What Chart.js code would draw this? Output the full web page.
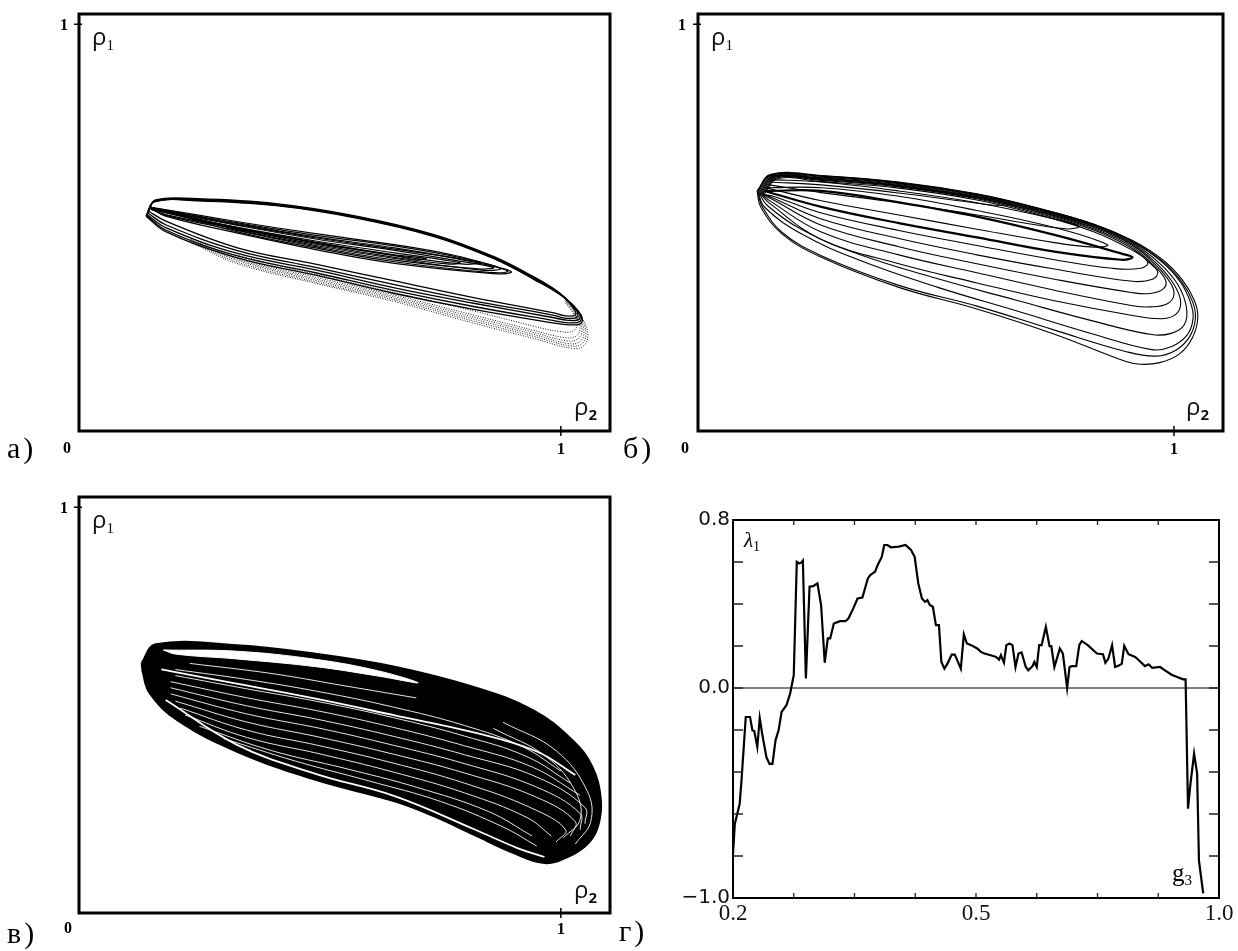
<!DOCTYPE html>
<html>
<head>
<meta charset="utf-8">
<script src="https://cdn.jsdelivr.net/npm/chart.js@4.4.1/dist/chart.umd.min.js"></script>
<style>
  body { margin: 0; background: #fff; width: 1238px; height: 951px; position: relative; overflow: hidden; }
  .box { position: absolute; }
  .lbl { position: absolute; white-space: nowrap; color: #000; line-height: 1; z-index: 2; }
  .let { font-family: 'Liberation Serif', serif; font-size: 30px; letter-spacing: 3px; }
  .num { font-family: 'Liberation Serif', serif; font-weight: bold; font-size: 16px; }
  .rho { font-family: 'Open Sans', sans-serif; font-size: 24px; color: #111; }
  .rho span { font-size: 15px; position: relative; top: 5px; }
  .ser { font-family: 'Liberation Serif', serif; }
</style>
</head>
<body>
<div class="box" style="left:0;top:0"><canvas id="pa" width="620" height="470"></canvas></div>
<div class="box" style="left:620px;top:0"><canvas id="pb" width="618" height="470"></canvas></div>
<div class="box" style="left:0;top:480px"><canvas id="pc" width="620" height="471"></canvas></div>
<div class="box" style="left:640px;top:490px"><canvas id="pd" width="598" height="461"></canvas></div>

<!-- panel a -->
<div class="lbl let" style="left:7px;top:433px">а)</div>
<div class="lbl num" style="left:63px;top:440px">0</div>
<div class="lbl num" style="left:557px;top:441px">1</div>
<div class="lbl num" style="left:60px;top:17px">1</div>
<div class="lbl rho" style="left:92px;top:24px">ρ<span class="ser">1</span></div>
<div class="lbl rho" style="left:574px;top:394px">ρ<span style="font-weight:bold">2</span></div>
<!-- panel b -->
<div class="lbl let" style="left:623px;top:433px">б)</div>
<div class="lbl num" style="left:681px;top:440px">0</div>
<div class="lbl num" style="left:1170px;top:441px">1</div>
<div class="lbl num" style="left:678px;top:17px">1</div>
<div class="lbl rho" style="left:711px;top:24px">ρ<span class="ser">1</span></div>
<div class="lbl rho" style="left:1186px;top:394px">ρ<span style="font-weight:bold">2</span></div>
<!-- panel c -->
<div class="lbl let" style="left:7px;top:918px">в)</div>
<div class="lbl num" style="left:64px;top:920px">0</div>
<div class="lbl num" style="left:557px;top:921px">1</div>
<div class="lbl num" style="left:60px;top:500px">1</div>
<div class="lbl rho" style="left:92px;top:507px">ρ<span class="ser">1</span></div>
<div class="lbl rho" style="left:574px;top:877px">ρ<span style="font-weight:bold">2</span></div>
<!-- panel d -->
<div class="lbl let" style="left:619px;top:916px">г)</div>
<div class="lbl ser" style="left:744px;top:530px;font-size:21px;font-style:italic">λ<span style="font-size:14px;font-style:normal;position:relative;top:4px">1</span></div>
<div class="lbl ser" style="left:1172px;top:860px;font-size:25px">g<span style="font-size:15px;position:relative;top:4px">3</span></div>

<script>
// --- panel г : largest Lyapunov exponent vs g3
const g3Values = [0.200,0.203,0.211,0.214,0.221,0.228,0.232,0.235,0.240,0.244,0.248,0.255,0.260,0.265,0.270,0.275,0.280,0.288,0.294,0.300,
  0.305,0.309,0.313,0.315,0.320,0.326,0.332,0.339,0.345,0.351,0.356,0.360,0.366,0.376,0.385,0.390,0.398,0.405,0.413,0.422,
  0.426,0.434,0.438,0.445,0.449,0.454,0.460,0.473,0.484,0.493,0.499,0.505,0.511,0.516,0.520,0.524,0.529,0.534,0.539,0.543,
  0.548,0.553,0.560,0.565,0.568,0.575,0.580,0.585,0.592,0.602,0.608,0.614,0.624,0.633,0.638,0.641,0.646,0.650,0.655,0.660,
  0.665,0.670,0.675,0.682,0.686,0.693,0.696,0.700,0.704,0.708,0.715,0.721,0.724,0.729,0.734,0.738,0.743,0.750,0.754,0.758,
  0.765,0.770,0.774,0.784,0.799,0.809,0.813,0.818,0.824,0.829,0.836,0.840,0.844,0.851,0.862,0.868,0.878,0.884,0.890,0.903,
  0.911,0.922,0.931,0.941,0.945,0.949,0.953,0.959,0.964,0.967,0.974];
const lambda1Values = [-0.790,-0.647,-0.551,-0.440,-0.138,-0.138,-0.202,-0.205,-0.281,-0.143,-0.218,-0.329,-0.361,-0.361,-0.249,-0.202,-0.114,-0.082,-0.027,0.061,
  0.601,0.593,0.598,0.606,0.045,0.482,0.485,0.498,0.395,0.120,0.236,0.236,0.307,0.318,0.318,0.331,0.379,0.426,0.431,0.522,
  0.538,0.554,0.585,0.625,0.681,0.681,0.670,0.673,0.681,0.657,0.625,0.498,0.426,0.410,0.418,0.395,0.387,0.299,0.299,0.124,
  0.092,0.116,0.159,0.159,0.140,0.092,0.255,0.212,0.204,0.188,0.172,0.164,0.156,0.148,0.135,0.156,0.121,0.204,0.212,0.204,
  0.100,0.164,0.169,0.100,0.084,0.104,0.124,0.100,0.204,0.204,0.291,0.199,0.199,0.100,0.148,0.188,0.164,0.000,0.100,0.104,
  0.104,0.204,0.224,0.204,0.164,0.161,0.120,0.140,0.204,0.100,0.108,0.116,0.201,0.161,0.148,0.132,0.104,0.113,0.096,0.100,
  0.084,0.063,0.052,0.041,0.041,-0.575,-0.456,-0.313,-0.408,-0.822,-0.978];
const lambdaTicks = [-0.8, -0.6, -0.4, -0.2, 0, 0.2, 0.4, 0.6];
const g3Ticks = [0.3, 0.4, 0.5, 0.6, 0.7, 0.8, 0.9];
const lambdaTickLabels = { '0.8': '0.8', '0.0': '0.0', '-1.0': '\u22121.0' };
const g3TickLabels = { '0.2': '0.2', '0.6': '0.5', '1.0': '1.0' };

// --- panel а : phase portrait rho2 (x) / rho1 (y), traced loops
const panelAOuter = [
  [[0.145,0.540],[0.159,0.568],[0.245,0.571],[0.409,0.559],[0.573,0.529],[0.737,0.483],[0.860,0.429],[0.942,0.380],[0.999,0.338],[1.026,0.302],[1.030,0.285],[1.010,0.283],[0.983,0.291],[0.819,0.328],[0.655,0.369],[0.491,0.410],[0.327,0.451],[0.180,0.516],[0.145,0.540]],
  [[0.143,0.536],[0.158,0.566],[0.245,0.569],[0.409,0.557],[0.573,0.527],[0.737,0.481],[0.860,0.427],[0.942,0.378],[1.001,0.335],[1.032,0.297],[1.034,0.280],[1.012,0.277],[0.983,0.285],[0.819,0.320],[0.655,0.360],[0.491,0.402],[0.327,0.444],[0.180,0.507],[0.143,0.536]],
  [[0.141,0.532],[0.157,0.565],[0.245,0.568],[0.409,0.556],[0.573,0.526],[0.737,0.480],[0.860,0.426],[0.942,0.376],[1.003,0.332],[1.037,0.292],[1.038,0.275],[1.015,0.272],[0.983,0.279],[0.819,0.314],[0.655,0.352],[0.491,0.396],[0.327,0.437],[0.180,0.500],[0.141,0.532]],
  [[0.140,0.530],[0.157,0.564],[0.245,0.567],[0.409,0.555],[0.573,0.525],[0.737,0.479],[0.860,0.425],[0.942,0.375],[1.005,0.330],[1.040,0.288],[1.040,0.270],[1.016,0.266],[0.983,0.272],[0.819,0.306],[0.655,0.345],[0.491,0.389],[0.327,0.431],[0.180,0.494],[0.140,0.530]],
  [[0.139,0.528],[0.156,0.563],[0.245,0.566],[0.409,0.554],[0.573,0.524],[0.737,0.478],[0.860,0.424],[0.942,0.374],[1.007,0.328],[1.042,0.285],[1.042,0.265],[1.018,0.261],[0.983,0.266],[0.819,0.299],[0.655,0.338],[0.491,0.383],[0.327,0.426],[0.180,0.490],[0.139,0.528]]
];
const panelAInner = [
  [[0.150,0.548],[0.163,0.546],[0.327,0.510],[0.491,0.477],[0.655,0.450],[0.778,0.425],[0.884,0.398],[0.897,0.390],[0.860,0.387],[0.655,0.412],[0.491,0.446],[0.327,0.487],[0.180,0.528],[0.150,0.548]],
  [[0.150,0.546],[0.327,0.506],[0.491,0.472],[0.655,0.444],[0.778,0.420],[0.860,0.402],[0.835,0.398],[0.655,0.420],[0.491,0.453],[0.327,0.493],[0.180,0.530],[0.150,0.546]],
  [[0.150,0.545],[0.327,0.501],[0.491,0.467],[0.655,0.438],[0.790,0.414],[0.770,0.410],[0.655,0.427],[0.491,0.459],[0.327,0.497],[0.180,0.532],[0.150,0.545]],
  [[0.150,0.544],[0.327,0.498],[0.491,0.463],[0.655,0.433],[0.720,0.424],[0.700,0.421],[0.655,0.431],[0.491,0.462],[0.327,0.500],[0.150,0.544]],
  [[0.150,0.550],[0.327,0.515],[0.491,0.485],[0.655,0.458],[0.778,0.432],[0.870,0.402],[0.890,0.392],[0.850,0.390],[0.655,0.416],[0.491,0.450],[0.327,0.490],[0.150,0.550]],
  [[0.150,0.549],[0.327,0.512],[0.491,0.481],[0.655,0.455],[0.800,0.424],[0.875,0.400],[0.840,0.395],[0.655,0.424],[0.491,0.456],[0.327,0.495],[0.150,0.549]],
  [[0.150,0.547],[0.327,0.508],[0.491,0.475],[0.655,0.447],[0.830,0.415],[0.800,0.410],[0.655,0.432],[0.491,0.464],[0.327,0.500],[0.150,0.547]]
];
const panelADotted = [
  [[1.010,0.325],[1.040,0.285],[1.056,0.240],[1.048,0.210],[1.024,0.203],[0.942,0.228],[0.819,0.265],[0.655,0.318],[0.491,0.363],[0.327,0.412],[0.230,0.465]],
  [[1.010,0.323],[1.038,0.285],[1.052,0.243],[1.044,0.215],[1.020,0.209],[0.942,0.233],[0.819,0.270],[0.655,0.322],[0.491,0.366],[0.327,0.416],[0.230,0.468]],
  [[1.010,0.322],[1.035,0.285],[1.048,0.245],[1.040,0.220],[1.015,0.215],[0.942,0.238],[0.819,0.275],[0.655,0.326],[0.491,0.370],[0.327,0.420],[0.230,0.470]],
  [[1.010,0.320],[1.033,0.285],[1.044,0.249],[1.035,0.226],[1.010,0.222],[0.942,0.243],[0.819,0.280],[0.655,0.330],[0.491,0.374],[0.327,0.423],[0.230,0.473]],
  [[1.010,0.318],[1.030,0.285],[1.040,0.252],[1.030,0.232],[1.005,0.230],[0.942,0.248],[0.819,0.285],[0.655,0.334],[0.491,0.378],[0.327,0.426],[0.230,0.476]],
  [[1.010,0.314],[1.028,0.285],[1.034,0.262],[1.024,0.245],[0.995,0.245],[0.942,0.258],[0.819,0.295],[0.655,0.340],[0.491,0.385],[0.327,0.432]]
];

// --- panel б
const panelBLoops = [
  [[0.124,0.590],[0.153,0.631],[0.259,0.628],[0.422,0.612],[0.586,0.583],[0.708,0.550],[0.831,0.509],[0.913,0.468],[0.978,0.419],[1.019,0.369],[1.043,0.320],[1.050,0.279],[1.039,0.230],[1.011,0.189],[0.970,0.168],[0.929,0.164],[0.896,0.172],[0.749,0.238],[0.586,0.300],[0.422,0.353],[0.259,0.427],[0.177,0.484],[0.132,0.550],[0.124,0.590]],
  [[0.125,0.589],[0.154,0.630],[0.259,0.627],[0.422,0.611],[0.586,0.582],[0.708,0.549],[0.831,0.508],[0.913,0.466],[0.976,0.417],[1.016,0.367],[1.039,0.318],[1.045,0.277],[1.033,0.232],[1.003,0.198],[0.962,0.184],[0.900,0.195],[0.749,0.248],[0.586,0.307],[0.422,0.358],[0.259,0.431],[0.177,0.488],[0.135,0.552],[0.125,0.589]],
  [[0.126,0.588],[0.155,0.629],[0.259,0.626],[0.422,0.610],[0.586,0.581],[0.708,0.548],[0.831,0.507],[0.913,0.465],[0.975,0.415],[1.014,0.365],[1.035,0.315],[1.040,0.275],[1.027,0.235],[0.994,0.207],[0.953,0.200],[0.831,0.238],[0.667,0.296],[0.504,0.353],[0.341,0.419],[0.218,0.484],[0.140,0.550],[0.126,0.588]],
  [[0.128,0.586],[0.157,0.627],[0.259,0.624],[0.422,0.608],[0.586,0.579],[0.708,0.546],[0.831,0.505],[0.913,0.462],[0.970,0.412],[1.008,0.360],[1.026,0.305],[1.022,0.262],[0.994,0.240],[0.953,0.237],[0.831,0.270],[0.667,0.322],[0.504,0.374],[0.341,0.433],[0.218,0.495],[0.145,0.555],[0.128,0.586]],
  [[0.130,0.585],[0.159,0.626],[0.259,0.622],[0.422,0.606],[0.586,0.577],[0.708,0.544],[0.831,0.503],[0.913,0.459],[0.965,0.410],[1.000,0.360],[1.014,0.318],[1.005,0.288],[0.975,0.276],[0.913,0.284],[0.749,0.320],[0.586,0.364],[0.422,0.411],[0.259,0.471],[0.150,0.560],[0.130,0.585]],
  [[0.132,0.584],[0.161,0.625],[0.259,0.620],[0.422,0.604],[0.586,0.575],[0.708,0.542],[0.831,0.500],[0.913,0.456],[0.960,0.410],[0.992,0.365],[1.000,0.335],[0.985,0.312],[0.950,0.305],[0.913,0.308],[0.749,0.346],[0.586,0.389],[0.422,0.433],[0.259,0.489],[0.152,0.565],[0.132,0.584]],
  [[0.134,0.583],[0.163,0.624],[0.259,0.618],[0.422,0.602],[0.586,0.573],[0.708,0.540],[0.831,0.497],[0.913,0.452],[0.955,0.410],[0.982,0.372],[0.978,0.350],[0.950,0.338],[0.913,0.340],[0.749,0.373],[0.586,0.411],[0.422,0.453],[0.259,0.506],[0.155,0.570],[0.134,0.583]],
  [[0.136,0.582],[0.165,0.622],[0.259,0.616],[0.422,0.600],[0.586,0.571],[0.708,0.537],[0.831,0.494],[0.913,0.448],[0.950,0.412],[0.966,0.390],[0.955,0.373],[0.913,0.368],[0.749,0.398],[0.586,0.433],[0.422,0.473],[0.259,0.521],[0.155,0.574],[0.136,0.582]],
  [[0.138,0.581],[0.167,0.620],[0.259,0.613],[0.422,0.597],[0.586,0.568],[0.708,0.534],[0.831,0.490],[0.913,0.444],[0.945,0.415],[0.930,0.400],[0.870,0.400],[0.749,0.421],[0.586,0.456],[0.422,0.493],[0.259,0.536],[0.158,0.577],[0.138,0.581]],
  [[0.142,0.598],[0.259,0.598],[0.422,0.577],[0.586,0.542],[0.749,0.500],[0.860,0.458],[0.832,0.452],[0.749,0.463],[0.586,0.496],[0.422,0.531],[0.259,0.566],[0.142,0.598]],
  [[0.150,0.628],[0.259,0.622],[0.422,0.603],[0.586,0.576],[0.655,0.558],[0.622,0.555],[0.586,0.560],[0.422,0.585],[0.259,0.605],[0.150,0.612]],
  [[0.148,0.618],[0.259,0.612],[0.422,0.590],[0.586,0.561],[0.749,0.521],[0.800,0.503],[0.772,0.497],[0.586,0.531],[0.422,0.561],[0.259,0.586],[0.148,0.605]]
];
const panelBHairpin = [[0.140,0.590],[0.259,0.590],[0.422,0.562],[0.586,0.527],[0.749,0.482],[0.890,0.436],[0.913,0.427],[0.890,0.421],[0.749,0.441],[0.586,0.476],[0.422,0.511],[0.259,0.551],[0.140,0.590]];

// --- panel в : dense band, outline plus the white gaps inside it
const panelCShape = [[0.130,0.616],[0.159,0.662],[0.327,0.660],[0.491,0.639],[0.655,0.607],[0.819,0.557],[0.942,0.500],[1.024,0.426],[1.065,0.361],[1.083,0.279],[1.077,0.213],[1.057,0.172],[1.016,0.139],[0.966,0.123],[0.901,0.148],[0.819,0.193],[0.737,0.238],[0.655,0.275],[0.491,0.328],[0.327,0.398],[0.204,0.475],[0.147,0.541],[0.133,0.590],[0.130,0.616]];
const panelCGap = [[0.175,0.648],[0.327,0.645],[0.491,0.625],[0.620,0.597],[0.704,0.567],[0.620,0.584],[0.491,0.607],[0.327,0.626],[0.200,0.638],[0.175,0.648]];
const panelCWide = [
  [[0.171,0.600],[0.327,0.565],[0.491,0.528],[0.655,0.487],[0.819,0.445],[0.950,0.398],[1.030,0.340]],
  [[0.180,0.525],[0.327,0.415],[0.491,0.343],[0.655,0.288],[0.819,0.207],[0.910,0.160],[0.966,0.138]]
];
const panelCStreaks = [
  [[0.20,0.600],[0.35,0.575],[0.50,0.545],[0.65,0.508],[0.80,0.462],[0.92,0.410],[1.00,0.350]],
  [[0.20,0.585],[0.35,0.552],[0.50,0.520],[0.65,0.482],[0.80,0.436],[0.93,0.385],[1.02,0.320]],
  [[0.19,0.570],[0.35,0.530],[0.50,0.497],[0.65,0.458],[0.80,0.412],[0.94,0.360],[1.04,0.290]],
  [[0.19,0.555],[0.35,0.510],[0.50,0.476],[0.65,0.436],[0.80,0.390],[0.95,0.335],[1.05,0.260],[1.05,0.220]],
  [[0.19,0.540],[0.35,0.490],[0.50,0.455],[0.65,0.414],[0.80,0.368],[0.95,0.310],[1.04,0.245],[1.04,0.205]],
  [[0.20,0.522],[0.35,0.470],[0.50,0.433],[0.65,0.392],[0.80,0.345],[0.95,0.285],[1.03,0.225],[1.02,0.190]],
  [[0.21,0.505],[0.35,0.450],[0.50,0.412],[0.65,0.370],[0.80,0.320],[0.94,0.258],[1.01,0.205],[0.99,0.175]],
  [[0.22,0.488],[0.35,0.432],[0.50,0.392],[0.65,0.348],[0.80,0.296],[0.93,0.235],[0.98,0.190]],
  [[0.25,0.460],[0.40,0.400],[0.55,0.357],[0.70,0.310],[0.85,0.250],[0.94,0.190]],
  [[0.30,0.430],[0.45,0.374],[0.60,0.326],[0.75,0.275],[0.88,0.212],[0.95,0.165]],
  [[0.880,0.470],[0.990,0.400],[1.055,0.300],[1.062,0.225],[1.030,0.170]],
  [[0.860,0.455],[0.970,0.385],[1.030,0.300],[1.040,0.230],[1.005,0.185]],
  [[0.230,0.615],[0.400,0.590],[0.550,0.560],[0.700,0.530]]
];

const pts = arr => arr.map(([x, y]) => ({ x, y }));

function lineSet(loops, style) {
  return loops.map(l => Object.assign({ data: pts(l), pointRadius: 0, fill: false, tension: 0.4 }, style));
}

// frame + inward ticks, drawn with the chart's own scales
const framePlugin = {
  id: 'frame',
  afterDraw(chart, args, o) {
    const { ctx, chartArea: a, scales: { x, y } } = chart;
    ctx.save();
    ctx.strokeStyle = '#000';
    ctx.lineWidth = o.width;
    ctx.strokeRect(a.left, a.top, a.right - a.left, a.bottom - a.top);
    ctx.lineWidth = o.tickWidth;
    ctx.strokeStyle = o.tickColor;
    ctx.beginPath();
    (o.yTicks || []).forEach(v => {
      const py = y.getPixelForValue(v);
      ctx.moveTo(a.left + o.yIn[0], py); ctx.lineTo(a.left + o.yIn[1], py);
      if (o.both) { ctx.moveTo(a.right - o.yIn[1], py); ctx.lineTo(a.right, py); }
    });
    (o.xTicks || []).forEach(v => {
      const px = x.getPixelForValue(v);
      ctx.moveTo(px, a.bottom - o.xIn[1]); ctx.lineTo(px, a.bottom - o.xIn[0]);
      if (o.both) { ctx.moveTo(px, a.top); ctx.lineTo(px, a.top + o.xIn[1]); }
    });
    ctx.stroke();
    ctx.restore();
  }
};

function phaseChart(id, datasets, pad, xmax) {
  return new Chart(document.getElementById(id), {
    type: 'line',
    data: { datasets },
    options: {
      responsive: false, animation: false, events: [],
      layout: { padding: pad },
      scales: {
        x: { type: 'linear', min: 0, max: xmax, display: false },
        y: { type: 'linear', min: 0, max: 1.025, display: false }
      },
      plugins: {
        legend: { display: false }, tooltip: { enabled: false },
        frame: { width: 3, tickWidth: 1.5, tickColor: '#000', yTicks: [1], xTicks: [1], yIn: [-5, 3], xIn: [-5, 5] }
      }
    },
    plugins: [framePlugin]
  });
}

// а
phaseChart('pa', [
  ...lineSet(panelAOuter, { borderColor: '#000', borderWidth: 1.3 }),
  ...lineSet(panelAInner, { borderColor: '#000', borderWidth: 1.2 }),
  ...lineSet(panelADotted, { borderColor: '#222', borderWidth: 1, borderDash: [1, 1.5] })
], { left: 79, top: 14, right: 10, bottom: 39 }, 1.102);

// б
phaseChart('pb', [
  ...lineSet(panelBLoops, { borderColor: '#000', borderWidth: 1.1 }),
  ...lineSet([panelBHairpin], { borderColor: '#000', borderWidth: 2.2 })
], { left: 78, top: 14, right: 15, bottom: 39 }, 1.103);

// в
phaseChart('pc', [
  ...lineSet(panelCStreaks, { borderColor: '#fff', borderWidth: 0.9, order: 1 }),
  ...lineSet(panelCWide, { borderColor: '#fff', borderWidth: 1.8, order: 1 }),
  ...lineSet([panelCGap], { borderColor: '#fff', backgroundColor: '#fff', borderWidth: 1, fill: 'shape', order: 2 }),
  ...lineSet([panelCShape], { borderColor: '#000', backgroundColor: '#000', borderWidth: 2, fill: 'shape', order: 3 })
], { left: 79, top: 17, right: 10, bottom: 38 }, 1.102);

// г
new Chart(document.getElementById('pd'), {
  type: 'line',
  data: {
    datasets: [
      { data: g3Values.map((g, i) => ({ x: g, y: lambda1Values[i] })), borderColor: '#000', borderWidth: 2.2, pointRadius: 0, tension: 0 },
      { data: [{ x: 0.2, y: 0 }, { x: 1.0, y: 0 }], borderColor: '#000', borderWidth: 1, pointRadius: 0 }
    ]
  },
  options: {
    responsive: false, animation: false, events: [],
    layout: { padding: { top: 30, right: 19, left: 0, bottom: 0 } },
    scales: {
      x: {
        type: 'linear', min: 0.2, max: 1.0,
        grid: { display: false, drawTicks: false }, border: { display: false },
        afterFit: s => { s.height = 53; },
        ticks: {
          stepSize: 0.1, autoSkip: false, maxRotation: 0, padding: 2, color: '#111',
          font: { family: 'Liberation Serif', size: 23 },
          callback: v => g3TickLabels[v.toFixed(1)] || ''
        }
      },
      y: {
        type: 'linear', min: -1, max: 0.8,
        grid: { display: false, drawTicks: false }, border: { display: false },
        afterFit: s => { s.width = 93; },
        ticks: {
          stepSize: 0.2, autoSkip: false, padding: 3, color: '#111',
          font: { family: 'DejaVu Sans', size: 20 },
          callback: v => lambdaTickLabels[(Math.abs(v) < 1e-9 ? 0 : v).toFixed(1)] || ''
        }
      }
    },
    plugins: {
      legend: { display: false }, tooltip: { enabled: false },
      frame: { width: 2, tickWidth: 1.3, tickColor: '#222', yTicks: lambdaTicks, xTicks: g3Ticks, yIn: [0, 10], xIn: [0, 5], both: true }
    }
  },
  plugins: [framePlugin]
});
</script>
</body>
</html>
